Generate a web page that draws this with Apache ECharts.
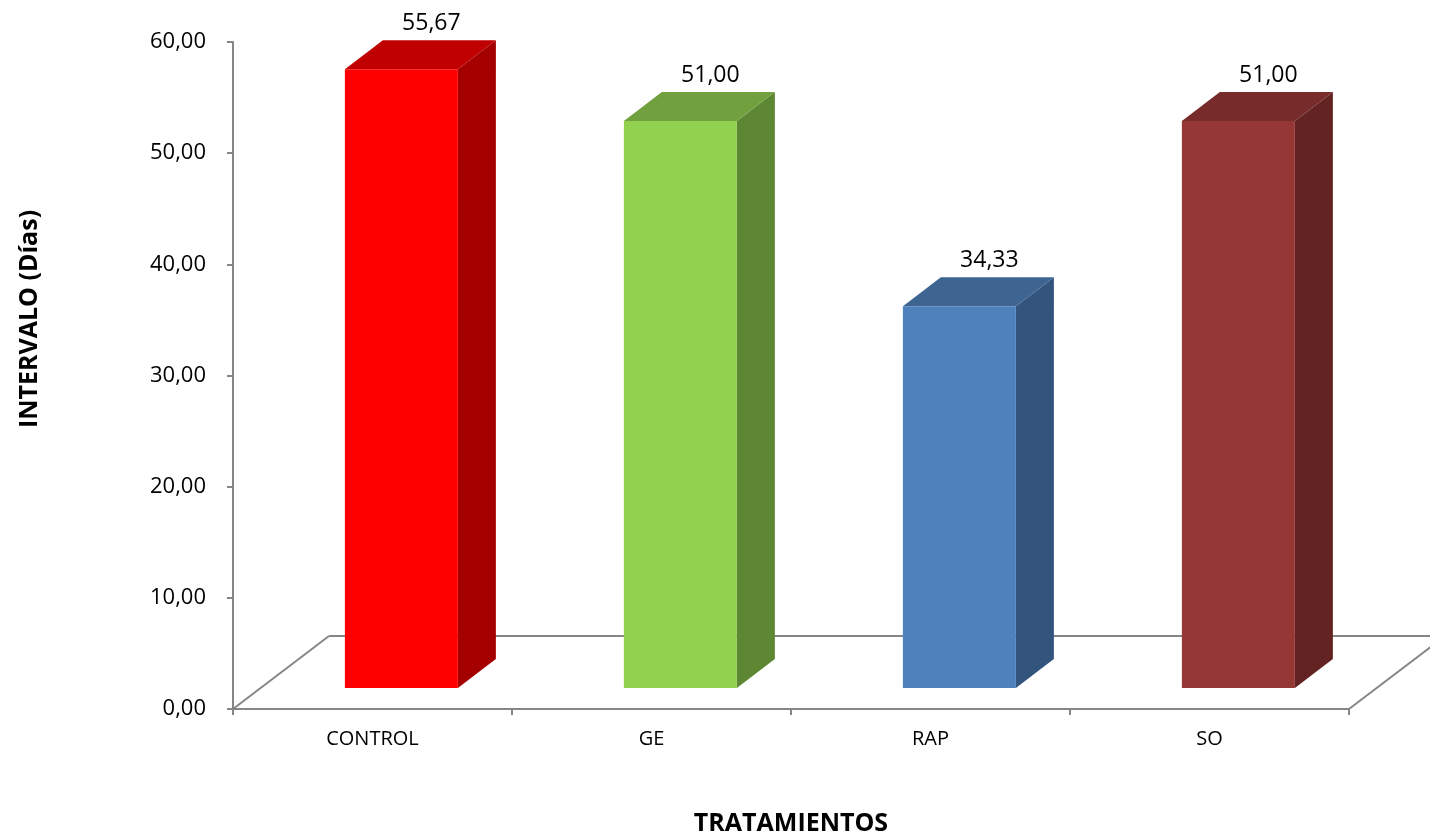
<!DOCTYPE html>
<html lang="es">
<head>
    <meta charset="UTF-8">
    <title>Intervalo por tratamiento</title>
    <script src="https://cdn.jsdelivr.net/npm/echarts@6/dist/echarts.min.js"></script>
    <style>
        html, body { margin: 0; padding: 0; background: #fff; }
    </style>
</head>
<body>
<div id="main" style="width: 1430px; height: 838px;"></div>
<script type="text/javascript">
    // datos del grafico
    var categorias = ['CONTROL', 'GE', 'RAP', 'SO'];
    var valores = [55.67, 51.00, 34.33, 51.00];
    var ticksY = [0, 10, 20, 30, 40, 50, 60];

    // colores de cada cara de las barras
    var coloresFrente = ['#FF0000', '#92D050', '#4F81BD', '#953735'];
    var coloresTapa = ['#C00000', '#71A03F', '#3E6591', '#772B2A'];
    var coloresLado = ['#A40000', '#5E8733', '#32547D', '#632322'];

    var fuente = "'Open Sans', 'Noto Sans', sans-serif";
    var gris = '#868686';

    // perspectiva (pixeles)
    var pisoDx = 96, pisoDy = 73;     // profundidad del piso
    var barraDy = 21;                 // desplazamiento de la cara frontal
    var ladoDx = 38, ladoDy = 29;     // profundidad de la barra

    function formato(v) {
        return v.toFixed(2).replace('.', ',');
    }

    var myChart = echarts.init(document.getElementById('main'));

    var option = {
        animation: false,
        grid: { left: 233, right: 81, top: 42, bottom: 129, containLabel: false, outerBoundsMode: 'none' },
        xAxis: {
            type: 'category',
            data: categorias,
            name: 'TRATAMIENTOS',
            nameLocation: 'middle',
            nameGap: 102,
            nameTextStyle: { fontFamily: fuente, fontWeight: 'bold', fontSize: 25, color: '#000' },
            axisLine: { lineStyle: { color: gris, width: 2 } },
            axisTick: { show: true, length: 6, lineStyle: { color: gris, width: 2 } },
            axisLabel: { fontFamily: fuente, fontSize: 20, color: '#000', margin: 20 },
            splitLine: { show: false }
        },
        yAxis: {
            type: 'value',
            min: ticksY[0],
            max: ticksY[ticksY.length - 1],
            interval: 10,
            axisLine: { show: true, lineStyle: { color: gris, width: 2 } },
            axisTick: { show: true, length: 6, lineStyle: { color: gris, width: 2 } },
            axisLabel: {
                fontFamily: fuente, fontSize: 22, color: '#000', margin: 27,
                formatter: function (v) { return formato(v); }
            },
            splitLine: { show: false }
        },
        graphic: [{
            type: 'text',
            x: 30,
            y: 319,
            rotation: Math.PI / 2,
            style: {
                text: 'INTERVALO (Días)',
                font: 'bold 25px ' + fuente,
                fill: '#000',
                align: 'center',
                verticalAlign: 'middle'
            }
        }],
        series: [
            {
                // piso en perspectiva
                type: 'custom',
                z: 1,
                silent: true,
                data: [[0, 0]],
                renderItem: function (params, api) {
                    var cs = params.coordSys;
                    var x0 = cs.x, x1 = cs.x + cs.width, y0 = cs.y + cs.height;
                    var estilo = { stroke: gris, lineWidth: 2, fill: null };
                    return {
                        type: 'group',
                        children: [
                            { type: 'line', shape: { x1: x0, y1: y0, x2: x0 + pisoDx, y2: y0 - pisoDy }, style: estilo },
                            { type: 'line', shape: { x1: x0 + pisoDx, y1: y0 - pisoDy, x2: x1 + pisoDx, y2: y0 - pisoDy }, style: estilo },
                            { type: 'line', shape: { x1: x1, y1: y0, x2: x1 + pisoDx, y2: y0 - pisoDy }, style: estilo }
                        ]
                    };
                }
            },
            {
                // barras 3D
                type: 'custom',
                z: 3,
                data: valores.map(function (v, i) { return [i, v]; }),
                encode: { x: 0, y: 1 },
                renderItem: function (params, api) {
                    var i = api.value(0);
                    var v = api.value(1);
                    var base = api.coord([i, 0]);
                    var tope = api.coord([i, v]);
                    var banda = api.size([1, 0])[0];
                    var ancho = banda * 0.405;
                    var x0 = base[0] - banda * 0.099;
                    var x1 = x0 + ancho;
                    var yb = base[1] - barraDy;
                    var yt = tope[1] - barraDy;
                    var idx = params.dataIndex;
                    return {
                        type: 'group',
                        children: [
                            {
                                type: 'polygon',
                                shape: { points: [[x1, yt], [x1 + ladoDx, yt - ladoDy], [x1 + ladoDx, yb - ladoDy], [x1, yb]] },
                                style: { fill: coloresLado[idx] }
                            },
                            {
                                type: 'polygon',
                                shape: { points: [[x0, yt], [x0 + ladoDx, yt - ladoDy], [x1 + ladoDx, yt - ladoDy], [x1, yt]] },
                                style: { fill: coloresTapa[idx] }
                            },
                            {
                                type: 'rect',
                                shape: { x: x0, y: yt, width: ancho, height: yb - yt },
                                style: { fill: coloresFrente[idx] }
                            },
                            {
                                type: 'text',
                                x: (x0 + x1) / 2 + 30,
                                y: yt - ladoDy - 5,
                                style: {
                                    text: formato(v),
                                    font: '23px ' + fuente,
                                    fill: '#000',
                                    align: 'center',
                                    verticalAlign: 'bottom'
                                }
                            }
                        ]
                    };
                }
            }
        ]
    };
    myChart.setOption(option);
</script>
</body>
</html>
